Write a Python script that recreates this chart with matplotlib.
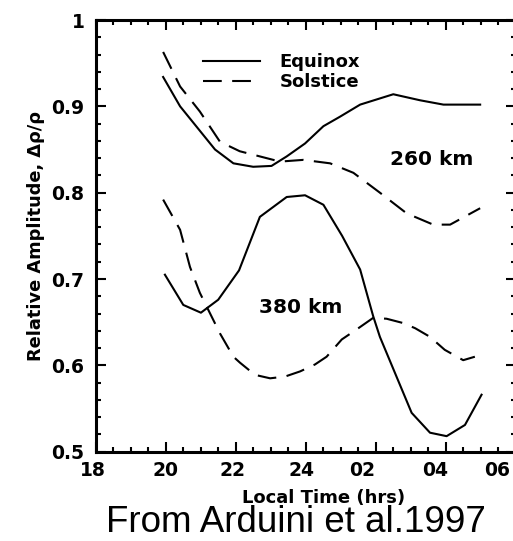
import matplotlib
matplotlib.use("Agg")
import matplotlib.pyplot as plt
from matplotlib.ticker import MultipleLocator, FixedLocator, FixedFormatter
from matplotlib.transforms import ScaledTranslation

# ---------------- data (local time in continuous hours, 24+ = after midnight) ----------------
eq260_t = [19.93, 20.414, 21.411, 21.935, 22.499, 23.023, 23.456, 23.98, 24.504, 24.977, 25.552, 26.498, 27.264, 27.929, 28.977]
eq260_v = [0.934, 0.900, 0.850, 0.834, 0.830, 0.831, 0.842, 0.857, 0.877, 0.888, 0.902, 0.914, 0.907, 0.902, 0.902]

so260_t = [19.93, 20.414, 20.978, 21.552, 22.116, 22.691, 23.265, 23.93, 24.695, 25.36, 26.116, 26.881, 27.637, 28.12, 28.977]
so260_v = [0.963, 0.923, 0.894, 0.859, 0.848, 0.842, 0.836, 0.838, 0.834, 0.823, 0.800, 0.776, 0.763, 0.763, 0.782]

eq380_t = [19.981, 20.505, 21.008, 21.502, 22.096, 22.691, 23.456, 23.98, 24.504, 25.038, 25.552, 25.924, 26.116, 27.022, 27.546, 28.02, 28.544, 29.017]
eq380_v = [0.705, 0.670, 0.661, 0.676, 0.710, 0.772, 0.795, 0.797, 0.786, 0.750, 0.711, 0.657, 0.633, 0.545, 0.522, 0.518, 0.531, 0.566]

so380_t = [19.93, 20.414, 20.696, 20.978, 21.552, 21.935, 22.126, 22.55, 22.983, 23.406, 23.839, 24.262, 24.595, 25.028, 25.501, 25.924, 26.307, 26.78, 27.123, 27.546, 27.966, 28.493, 28.826]
so380_v = [0.792, 0.757, 0.714, 0.684, 0.637, 0.610, 0.603, 0.589, 0.585, 0.587, 0.593, 0.601, 0.610, 0.630, 0.643, 0.655, 0.654, 0.649, 0.643, 0.633, 0.618, 0.606, 0.610]

x_ticks = [18, 20, 22, 24, 26, 28, 30]
x_labels = ["18", "20", "22", "24", "02", "04", "06"]
y_ticks = [0.5, 0.6, 0.7, 0.8, 0.9, 1.0]
y_labels = ["0.5", "0.6", "0.7", "0.8", "0.9", "1"]

# hand-placed look of the original x tick labels (pixel shifts from their ticks)
x_label_shift_px = [-3, -0.3, -3.2, -4, -13.6, -10.4, -18.8]

# ---------------- figure ----------------
W, H = 513, 541
fig = plt.figure(figsize=(W / 100, H / 100), dpi=100)
ax = fig.add_axes([95.5 / W, 1 - 451.7 / H, 420.5 / W, 431.7 / H])

bold = dict(family="DejaVu Sans", weight="bold")
lw = 1.5
ax.plot(eq260_t, eq260_v, color="black", lw=lw, label="Equinox")
ax.plot(so260_t, so260_v, color="black", lw=lw, dashes=(9, 5), label="Solstice")
ax.plot(eq380_t, eq380_v, color="black", lw=lw)
ax.plot(so380_t, so380_v, color="black", lw=lw, dashes=(9, 5))

ax.set_xlim(18, 30)
ax.set_ylim(0.5, 1.0)
ax.xaxis.set_major_locator(FixedLocator(x_ticks))
ax.xaxis.set_major_formatter(FixedFormatter(x_labels))
ax.xaxis.set_minor_locator(MultipleLocator(0.5))
ax.yaxis.set_major_locator(FixedLocator(y_ticks))
ax.yaxis.set_major_formatter(FixedFormatter(y_labels))
ax.yaxis.set_minor_locator(MultipleLocator(0.02))

ax.tick_params(which="both", direction="in", top=True, right=True, width=1.5, color="black")
ax.tick_params(which="major", length=7)
ax.tick_params(which="minor", length=3.5)
ax.tick_params(axis="y", which="major", pad=8)
ax.tick_params(axis="x", which="major", pad=7)
for s in ax.spines.values():
    s.set_linewidth(2.2)

for tick, dx in zip(ax.xaxis.get_major_ticks(len(x_ticks)), x_label_shift_px):
    lab = tick.label1
    lab.set_transform(lab.get_transform() + ScaledTranslation(dx / 100, 0, fig.dpi_scale_trans))
for lab in ax.get_xticklabels() + ax.get_yticklabels():
    lab.set_fontfamily("DejaVu Sans")
    lab.set_fontweight("bold")
    lab.set_fontsize(13.5)

ax.set_xlabel("Local Time (hrs)", fontsize=13, **bold)
ax.xaxis.set_label_coords(0.5434, -0.087)
ax.xaxis.label.set_va("top")
ax.set_ylabel("Relative Amplitude, \u0394\u03c1/\u03c1", fontsize=12.8, **bold)
ax.yaxis.set_label_coords(-0.120, 0.5)

ax.text(27.59, 0.838, "260 km", fontsize=14.5, ha="center", va="center", **bold)
ax.text(23.85, 0.667, "380 km", fontsize=14.5, ha="center", va="center", **bold)

leg = ax.legend(loc="upper left", bbox_to_anchor=(0.2557, 0.923), frameon=False,
                prop=dict(family="DejaVu Sans", weight="bold", size=13),
                handlelength=3.15, handletextpad=1.1, labelspacing=0.105,
                borderpad=0, borderaxespad=0)

fig.text(296 / W, 0.5 / H, "From Arduini et al.1997", family="Liberation Sans",
         fontsize=26.5, ha="center", va="bottom", color="black")

fig.savefig("out.png", dpi=100)
